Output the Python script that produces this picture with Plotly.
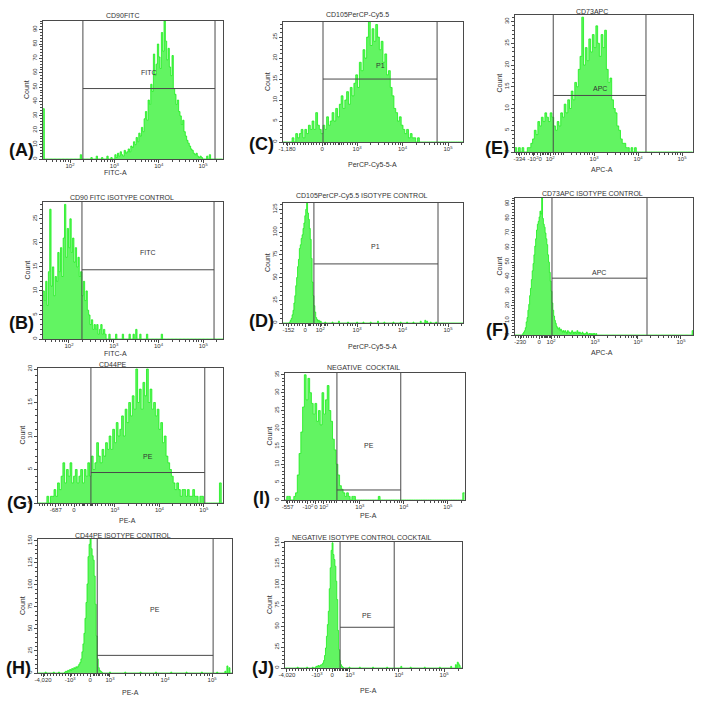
import numpy as np
import plotly.graph_objects as go

# ----------------------------- DATA -----------------------------
# x positions are in display "decade" units of each cytometer axis
A_title = "CD90FITC"
A_xlabel = "FITC-A"
A_bw = 0.03
A_start = 3.00
A_counts = [3, 1, 4, 2, 5, 3, 2, 6, 4, 5, 7, 5, 9, 8, 12, 10, 15, 12, 18, 16,
            22, 19, 28, 33, 27, 41, 38, 52, 47, 73, 58, 66, 80, 71, 63, 88, 75, 96, 82, 69,
            77, 64, 58, 72, 49, 45, 38, 41, 33, 30, 24, 27, 19, 16, 13, 11, 9, 7, 6, 4,
            3, 4, 2, 1, 2, 1]
A_blip_u = [1.40, 2.26, 2.47, 2.59, 2.71, 2.83, 2.92, 5.10, 5.16]
A_blip_c = [35, 3, 1, 2, 1, 2, 1, 2, 3]
A_xrange = [1.39, 5.45]
A_ymax = 96
A_ydtick = 10
A_tick_u = [2, 3, 4, 5]
A_tick_text = ["10<sup>2</sup>", "10<sup>3</sup>", "10<sup>4</sup>", "10<sup>5</sup>"]
A_gate = [2.29, 5.27, 49]
A_gate_name = "FITC"
A_gate_label_y = 60

B_title = "CD90 FITC ISOTYPE CONTROL"
B_xlabel = "FITC-A"
B_bw = 0.03
B_start = 1.42
B_counts = [10, 8, 12, 7, 14, 27, 11, 15, 9, 13, 12, 18, 14, 19, 13, 21, 28, 17, 23, 19,
            25, 18, 21, 16, 19, 15, 17, 13, 14, 9, 12, 8, 10, 6, 5, 3, 4, 2, 3, 2,
            3, 1, 2, 3, 1, 2, 1]
B_blip_u = [2.90, 3.07, 3.20, 3.35, 3.43, 3.50, 3.59, 3.75, 4.08]
B_blip_c = [1, 1, 1, 1, 1, 2, 1, 1, 1]
B_xrange = [1.42, 5.44]
B_ymax = 28.5
B_ydtick = 5
B_tick_u = [2, 3, 4, 5]
B_tick_text = ["10<sup>2</sup>", "10<sup>3</sup>", "10<sup>4</sup>", "10<sup>5</sup>"]
B_gate = [2.29, 5.24, 14.4]
B_gate_name = "FITC"
B_gate_label_y = 17.9

C_title = "CD105PerCP-Cy5.5"
C_xlabel = "PerCP-Cy5-5-A"
C_bw = 0.04
C_start = 1.56
C_counts = [1, 0, 2, 1, 2, 3, 1, 3, 2, 4, 3, 5, 3, 7, 4, 3, 2, 4, 3, 6,
            4, 5, 7, 5, 8, 6, 9, 11, 8, 10, 12, 9, 13, 11, 14, 16, 13, 19, 17, 22,
            20, 25, 29, 23, 27, 24, 28, 25, 22, 24, 19, 21, 16, 17, 13, 11, 8, 7, 5, 6,
            4, 3, 2, 3, 1, 2, 1, 1, 0, 1]
C_blip_u = []
C_blip_c = []
C_xrange = [1.37, 5.33]
C_ymax = 28.6
C_ydtick = 5
C_tick_u = [1.46, 2.23, 3, 4, 5]
C_tick_text = ["-1,180", "0", "10<sup>3</sup>", "10<sup>4</sup>", "10<sup>5</sup>"]
C_gate = [2.25, 4.76, 15]
C_gate_name = "P1"
C_gate_label_y = 18.3

D_title = "CD105PerCP-Cy5.5 ISOTYPE CONTROL"
D_xlabel = "PerCP-Cy5-5-A"
D_bw = 0.02
D_start = 1.52
D_counts = [1, 3, 5, 9, 14, 22, 30, 41, 50, 62, 70, 82, 86, 93, 97, 104, 110, 118, 125, 136,
            121, 114, 104, 92, 71, 45, 30, 19, 12, 6, 4, 2, 3, 1, 2]
D_blip_u = [2.30, 2.45, 2.60, 2.80, 3.00, 3.15, 3.30, 3.45, 3.60, 3.80, 3.95, 4.10, 4.25,
            4.40, 4.50, 4.55, 4.62, 4.75]
D_blip_c = [1, 1, 2, 1, 1, 1, 1, 2, 1, 1, 1, 1, 1, 2, 3, 2, 1, 1]
D_xrange = [1.37, 5.33]
D_ymax = 132
D_ydtick = 25
D_tick_u = [1.49, 1.86, 2.19, 3, 4, 5]
D_tick_text = ["-152", "0", "10<sup>2</sup>", "10<sup>3</sup>", "10<sup>4</sup>", "10<sup>5</sup>"]
D_gate = [2.05, 4.78, 65]
D_gate_name = "P1"
D_gate_label_y = 84

E_title = "CD73APC"
E_xlabel = "APC-A"
E_bw = 0.04
E_start = 1.20
E_counts = [1, 0, 1, 0, 1, 0, 0, 1, 1, 2, 3, 5, 4, 7, 6, 8, 7, 9, 8, 7,
            9, 8, 6, 5, 7, 6, 9, 8, 11, 9, 12, 10, 14, 12, 16, 15, 19, 22, 31, 20,
            24, 21, 26, 23, 27, 24, 29, 25, 22, 27, 24, 28, 19, 16, 17, 12, 10, 9, 6, 5,
            3, 2, 2, 1, 1, 0, 1, 0, 1]
E_blip_u = []
E_blip_c = []
E_xrange = [1.20, 5.25]
E_ymax = 31.5
E_ydtick = 5
E_tick_u = [1.30, 1.61, 1.77, 2.0, 3, 4, 5]
E_tick_text = ["-334", "-10<sup>2</sup>", "0", "10<sup>2</sup>", "10<sup>3</sup>", "10<sup>4</sup>", "10<sup>5</sup>"]
E_gate = [2.07, 4.18, 13]
E_gate_name = "APC"
E_gate_label_y = 14.7

F_title = "CD73APC ISOTYPE CONTROL"
F_xlabel = "APC-A"
F_bw = 0.02
F_start = 1.30
F_counts = [0, 1, 2, 3, 5, 9, 12, 17, 21, 27, 32, 38, 44, 49, 55, 61, 66, 72, 76, 78,
            81, 85, 83, 94, 80, 76, 74, 70, 66, 62, 55, 50, 43, 37, 30, 22, 17, 13, 10, 8,
            6, 5, 4, 5, 3, 4, 3, 2, 3, 2, 3, 2, 1, 3, 2, 2, 1, 2, 3, 2,
            1, 2, 2, 1, 3, 2, 1, 2, 1, 1, 2, 1, 0, 1, 1, 2, 1, 0, 1, 1,
            0, 1, 0, 1, 1, 0, 1]
F_blip_u = [5.26]
F_blip_c = [3]
F_xrange = [1.14, 5.28]
F_ymax = 94
F_ydtick = 10
F_tick_u = [1.26, 1.70, 1.98, 3, 4, 5]
F_tick_text = ["-230", "0", "10<sup>2</sup>", "10<sup>3</sup>", "10<sup>4</sup>", "10<sup>5</sup>"]
F_gate = [2.0, 4.21, 39]
F_gate_name = "APC"
F_gate_label_y = 43

G_title = "CD44PE"
G_xlabel = "PE-A"
G_bw = 0.04
G_start = 1.48
G_counts = [1, 0, 1, 1, 2, 1, 3, 2, 4, 6, 3, 5, 4, 6, 3, 4, 5, 3, 4, 5,
            3, 5, 4, 6, 4, 7, 5, 6, 9, 7, 6, 8, 7, 9, 8, 10, 8, 11, 9, 12,
            10, 11, 13, 10, 14, 12, 15, 13, 16, 14, 20, 15, 17, 14, 18, 16, 20, 15, 17, 14,
            15, 13, 14, 11, 12, 9, 10, 7, 6, 5, 4, 3, 2, 3, 2, 1, 2, 2, 1, 2,
            1, 1, 2, 1, 1, 0, 1, 1]
G_blip_u = [5.38]
G_blip_c = [3]
G_xrange = [1.27, 5.43]
G_ymax = 20.15
G_ydtick = 5
G_tick_u = [1.67, 2.08, 3, 4, 5]
G_tick_text = ["-687", "0", "10<sup>3</sup>", "10<sup>4</sup>", "10<sup>5</sup>"]
G_gate = [2.46, 5.02, 4.55]
G_gate_name = "PE"
G_gate_label_y = 6.9

I_title = "NEGATIVE  COCKTAIL"
I_xlabel = "PE-A"
I_bw = 0.04
I_start = 1.32
I_counts = [1, 1, 0, 0, 1, 2, 7, 13, 19, 26, 35, 28, 34, 30, 27, 24, 27, 22, 25, 21,
            30, 24, 28, 32, 25, 22, 17, 14, 10, 7, 4, 3, 2, 1, 2, 1, 0, 1, 1]
I_blip_u = [3.45, 5.37]
I_blip_c = [1, 2]
I_xrange = [1.30, 5.39]
I_ymax = 35.5
I_ydtick = 5
I_tick_u = [1.36, 1.82, 2.0, 2.18, 3, 4, 5]
I_tick_text = ["-557", "-10<sup>2</sup>", "0", "10<sup>2</sup>", "10<sup>3</sup>", "10<sup>4</sup>", "10<sup>5</sup>"]
I_gate = [2.48, 3.93, 2.8]
I_gate_name = "PE"
I_gate_label_y = 15.1

H_title = "CD44PE ISOTYPE CONTROL"
H_xlabel = "PE-A"
H_bw = 0.02
H_start = 2.10
H_counts = [1, 2, 1, 3, 2, 4, 3, 5, 4, 6, 5, 7, 6, 8, 10, 12, 16, 24, 33, 45,
            62, 80, 101, 132, 146, 152, 141, 133, 128, 110, 78, 42, 16, 6, 3, 2, 1]
H_blip_u = [1.75, 1.90, 2.00, 3.00, 3.30, 3.60, 3.90, 4.20, 4.50, 4.80, 5.10, 5.25, 5.29, 5.31, 5.33, 5.35]
H_blip_c = [1, 1, 1, 1, 1, 1, 1, 1, 1, 1, 1, 2, 5, 8, 6, 3]
H_xrange = [1.59, 5.39]
H_ymax = 152
H_ydtick = 25
H_tick_u = [1.69, 2.22, 2.61, 3, 4.08, 5]
H_tick_text = ["-4,020", "-10<sup>3</sup>", "0", "10<sup>3</sup>", "10<sup>4</sup>", "10<sup>5</sup>"]
H_gate = [2.75, 5.02, 20]
H_gate_name = "PE"
H_gate_label_y = 71.5

J_title = "NEGATIVE ISOTYPE CONTROL COCKTAIL"
J_xlabel = "PE-A"
J_bw = 0.02
J_start = 2.26
J_counts = [1, 2, 2, 3, 2, 3, 4, 4, 6, 9, 15, 24, 38, 52, 68, 95, 120, 141, 150, 136,
            130, 122, 104, 82, 45, 22, 9, 4, 2, 1]
J_blip_u = [1.90, 2.10, 2.20, 3.00, 3.20, 3.50, 3.80, 4.10, 4.30, 4.60, 4.90, 5.15, 5.25, 5.29, 5.31, 5.34]
J_blip_c = [1, 1, 1, 1, 1, 1, 1, 2, 1, 1, 1, 2, 4, 7, 5, 3]
J_xrange = [1.62, 5.38]
J_ymax = 151
J_ydtick = 25
J_tick_u = [1.66, 2.30, 2.62, 3, 4.04, 5]
J_tick_text = ["-4,020", "-10<sup>3</sup>", "0", "10<sup>3</sup>", "10<sup>4</sup>", "10<sup>5</sup>"]
J_gate = [2.79, 3.94, 48.8]
J_gate_name = "PE"
J_gate_label_y = 63.5

panel_letters = ["(A)", "(B)", "(C)", "(D)", "(E)", "(F)", "(G)", "(I)", "(H)", "(J)"]

# ----------------------------- LAYOUT / STYLE -----------------------------
W, H = 704, 703
FONT = "Liberation Sans, Arial, sans-serif"
LINE_GREEN = "#1bef1b"
FILL_GREEN = "#62f462"
FRAME = "#4a4a4a"
TXT = "#333333"

panels = [
    dict(title=A_title, xlabel=A_xlabel, bw=A_bw, start=A_start, counts=A_counts, bu=A_blip_u, bc=A_blip_c,
         xr=A_xrange, ymax=A_ymax, ydt=A_ydtick, tu=A_tick_u, tt=A_tick_text, gate=A_gate, gname=A_gate_name,
         gly=A_gate_label_y, zero=None, box=(43, 223, 21, 159), title_xy=(122, 15), xlab_xy=(115, 172),
         letter=panel_letters[0], letter_xy=(21, 150)),
    dict(title=B_title, xlabel=B_xlabel, bw=B_bw, start=B_start, counts=B_counts, bu=B_blip_u, bc=B_blip_c,
         xr=B_xrange, ymax=B_ymax, ydt=B_ydtick, tu=B_tick_u, tt=B_tick_text, gate=B_gate, gname=B_gate_name,
         gly=B_gate_label_y, zero=None, box=(43, 223, 202, 339), title_xy=(122, 197), xlab_xy=(115, 353),
         letter=panel_letters[1], letter_xy=(21, 323)),
    dict(title=C_title, xlabel=C_xlabel, bw=C_bw, start=C_start, counts=C_counts, bu=C_blip_u, bc=C_blip_c,
         xr=C_xrange, ymax=C_ymax, ydt=C_ydtick, tu=C_tick_u, tt=C_tick_text, gate=C_gate, gname=C_gate_name,
         gly=C_gate_label_y, zero=2.23, box=(283, 463, 22, 142), title_xy=(357, 15), xlab_xy=(372, 165),
         letter=panel_letters[2], letter_xy=(261, 144)),
    dict(title=D_title, xlabel=D_xlabel, bw=D_bw, start=D_start, counts=D_counts, bu=D_blip_u, bc=D_blip_c,
         xr=D_xrange, ymax=D_ymax, ydt=D_ydtick, tu=D_tick_u, tt=D_tick_text, gate=D_gate, gname=D_gate_name,
         gly=D_gate_label_y, zero=1.86, box=(283, 463, 203, 323), title_xy=(362, 196), xlab_xy=(372, 347),
         letter=panel_letters[3], letter_xy=(261, 321)),
    dict(title=E_title, xlabel=E_xlabel, bw=E_bw, start=E_start, counts=E_counts, bu=E_blip_u, bc=E_blip_c,
         xr=E_xrange, ymax=E_ymax, ydt=E_ydtick, tu=E_tick_u, tt=E_tick_text, gate=E_gate, gname=E_gate_name,
         gly=E_gate_label_y, zero=1.77, box=(515, 693, 15, 152), title_xy=(592, 11), xlab_xy=(602, 169),
         letter=panel_letters[4], letter_xy=(497, 148)),
    dict(title=F_title, xlabel=F_xlabel, bw=F_bw, start=F_start, counts=F_counts, bu=F_blip_u, bc=F_blip_c,
         xr=F_xrange, ymax=F_ymax, ydt=F_ydtick, tu=F_tick_u, tt=F_tick_text, gate=F_gate, gname=F_gate_name,
         gly=F_gate_label_y, zero=1.70, box=(515, 693, 198, 335), title_xy=(592, 194), xlab_xy=(602, 352),
         letter=panel_letters[5], letter_xy=(497, 330)),
    dict(title=G_title, xlabel=G_xlabel, bw=G_bw, start=G_start, counts=G_counts, bu=G_blip_u, bc=G_blip_c,
         xr=G_xrange, ymax=G_ymax, ydt=G_ydtick, tu=G_tick_u, tt=G_tick_text, gate=G_gate, gname=G_gate_name,
         gly=G_gate_label_y, zero=2.08, box=(38, 223, 368, 503), title_xy=(113, 364), xlab_xy=(127, 520),
         letter=panel_letters[6], letter_xy=(20, 503)),
    dict(title=I_title, xlabel=I_xlabel, bw=I_bw, start=I_start, counts=I_counts, bu=I_blip_u, bc=I_blip_c,
         xr=I_xrange, ymax=I_ymax, ydt=I_ydtick, tu=I_tick_u, tt=I_tick_text, gate=I_gate, gname=I_gate_name,
         gly=I_gate_label_y, zero=2.0, box=(285, 465, 373, 500), title_xy=(363, 368), xlab_xy=(368, 515),
         letter=panel_letters[7], letter_xy=(261, 498)),
    dict(title=H_title, xlabel=H_xlabel, bw=H_bw, start=H_start, counts=H_counts, bu=H_blip_u, bc=H_blip_c,
         xr=H_xrange, ymax=H_ymax, ydt=H_ydtick, tu=H_tick_u, tt=H_tick_text, gate=H_gate, gname=H_gate_name,
         gly=H_gate_label_y, zero=2.61, box=(38, 232, 539, 673), title_xy=(123, 535), xlab_xy=(130, 692),
         letter=panel_letters[8], letter_xy=(18, 668)),
    dict(title=J_title, xlabel=J_xlabel, bw=J_bw, start=J_start, counts=J_counts, bu=J_blip_u, bc=J_blip_c,
         xr=J_xrange, ymax=J_ymax, ydt=J_ydtick, tu=J_tick_u, tt=J_tick_text, gate=J_gate, gname=J_gate_name,
         gly=J_gate_label_y, zero=2.62, box=(285, 462, 542, 668), title_xy=(362, 537), xlab_xy=(368, 690),
         letter=panel_letters[9], letter_xy=(263, 668)),
]


def hist_path(p):
    """Place typed counts on a regular bin grid spanning the axis range."""
    x0, x1 = p["xr"]
    bw = p["bw"]
    n = int(round((x1 - x0) / bw))
    y = np.zeros(n)
    i0 = int(round((p["start"] - x0) / bw))
    for k, c in enumerate(p["counts"]):
        if 0 <= i0 + k < n:
            y[i0 + k] = c
    for u, c in zip(p["bu"], p["bc"]):
        i = int((u - x0) // bw)
        if 0 <= i < n:
            y[i] = max(y[i], c)
    edges = x0 + bw * np.arange(n + 1)
    return edges, np.append(y, y[-1])


def minor_ticks(xr, zero):
    vals = []
    lo = xr[0] if zero is None else zero + 0.06
    for d in range(0, 6):
        for k in range(2, 10):
            u = d + np.log10(k)
            if lo < u < xr[1]:
                vals.append(float(u))
    if zero is not None:
        u = zero - 0.06
        while u > xr[0]:
            vals.append(float(u))
            u -= 0.06
        u = zero + 0.06
        while u < zero + 0.5 and u < 3:
            vals.append(float(u))
            u += 0.06
    return vals


def px_x(px):
    return px / W


def px_y(py):
    return 1 - py / H


fig = go.Figure()
shapes = []
annotations = []
layout_axes = {}

for i, p in enumerate(panels, start=1):
    s = "" if i == 1 else str(i)
    xa, ya = "x" + s, "y" + s
    xs, ys = hist_path(p)
    fig.add_trace(go.Scatter(
        x=xs, y=ys, mode="lines", line=dict(shape="hv", color=LINE_GREEN, width=0.8),
        fill="tozeroy", fillcolor=FILL_GREEN, xaxis=xa, yaxis=ya, hoverinfo="skip"))
    L, R, T, B = p["box"]
    layout_axes["xaxis" + s] = dict(
        domain=[px_x(L), px_x(R)], range=p["xr"], anchor=ya,
        tickmode="array", tickvals=p["tu"], ticktext=p["tt"], tickangle=0,
        ticks="outside", ticklen=3, tickwidth=1, tickcolor=FRAME, ticklabelstandoff=-2,
        tickfont=dict(size=6, color=TXT, family=FONT),
        minor=dict(tickmode="array", tickvals=minor_ticks(p["xr"], p["zero"]),
                   ticks="outside", ticklen=2, tickwidth=1, tickcolor=FRAME),
        showline=True, mirror=True, linecolor=FRAME, linewidth=1,
        showgrid=False, zeroline=False, automargin=False, fixedrange=True)
    layout_axes["yaxis" + s] = dict(
        domain=[px_y(B), px_y(T)], range=[0, p["ymax"]], anchor=xa,
        dtick=p["ydt"], tick0=0, tickangle=-90,
        ticks="outside", ticklen=3, tickwidth=1, tickcolor=FRAME,
        tickfont=dict(size=6, color=TXT, family=FONT),
        minor=dict(dtick=p["ydt"] / 5, ticks="outside", ticklen=2, tickwidth=1, tickcolor=FRAME),
        showline=True, mirror=True, linecolor=FRAME, linewidth=1,
        showgrid=False, zeroline=False, automargin=False, fixedrange=True)

    gl, gr, gy = p["gate"]
    for gx in (gl, gr):
        shapes.append(dict(type="line", xref=xa, yref=ya + " domain", x0=gx, x1=gx, y0=0, y1=1,
                           line=dict(color=FRAME, width=1)))
    shapes.append(dict(type="line", xref=xa, yref=ya, x0=gl, x1=gr, y0=gy, y1=gy,
                       line=dict(color=FRAME, width=1)))

    annotations.append(dict(xref=xa, yref=ya, x=(gl + gr) / 2, y=p["gly"], text=p["gname"],
                            showarrow=False, font=dict(size=7, color=TXT, family=FONT)))
    tx, ty = p["title_xy"]
    annotations.append(dict(xref="paper", yref="paper", x=px_x(tx), y=px_y(ty), text=p["title"],
                            showarrow=False, xanchor="center", yanchor="middle",
                            font=dict(size=7, color=TXT, family=FONT)))
    lx, ly = p["xlab_xy"]
    annotations.append(dict(xref="paper", yref="paper", x=px_x(lx), y=px_y(ly), text=p["xlabel"],
                            showarrow=False, xanchor="center", yanchor="middle",
                            font=dict(size=7, color=TXT, family=FONT)))
    annotations.append(dict(xref="paper", yref="paper", x=px_x(L - 16), y=px_y((T + B) / 2), text="Count",
                            showarrow=False, textangle=-90, xanchor="center", yanchor="middle",
                            font=dict(size=7, color=TXT, family=FONT)))
    kx, ky = p["letter_xy"]
    annotations.append(dict(xref="paper", yref="paper", x=px_x(kx), y=px_y(ky), text=f"<b>{p['letter']}</b>",
                            showarrow=False, xanchor="center", yanchor="middle",
                            font=dict(size=18, color="#111111", family=FONT)))

fig.update_layout(
    width=W, height=H, margin=dict(l=0, r=0, t=0, b=0),
    paper_bgcolor="white", plot_bgcolor="white", showlegend=False,
    shapes=shapes, annotations=annotations, **layout_axes)

fig.write_html("out.html", config={"displayModeBar": False},
               post_script="document.body.style.margin='0';document.body.style.overflow='hidden';")
